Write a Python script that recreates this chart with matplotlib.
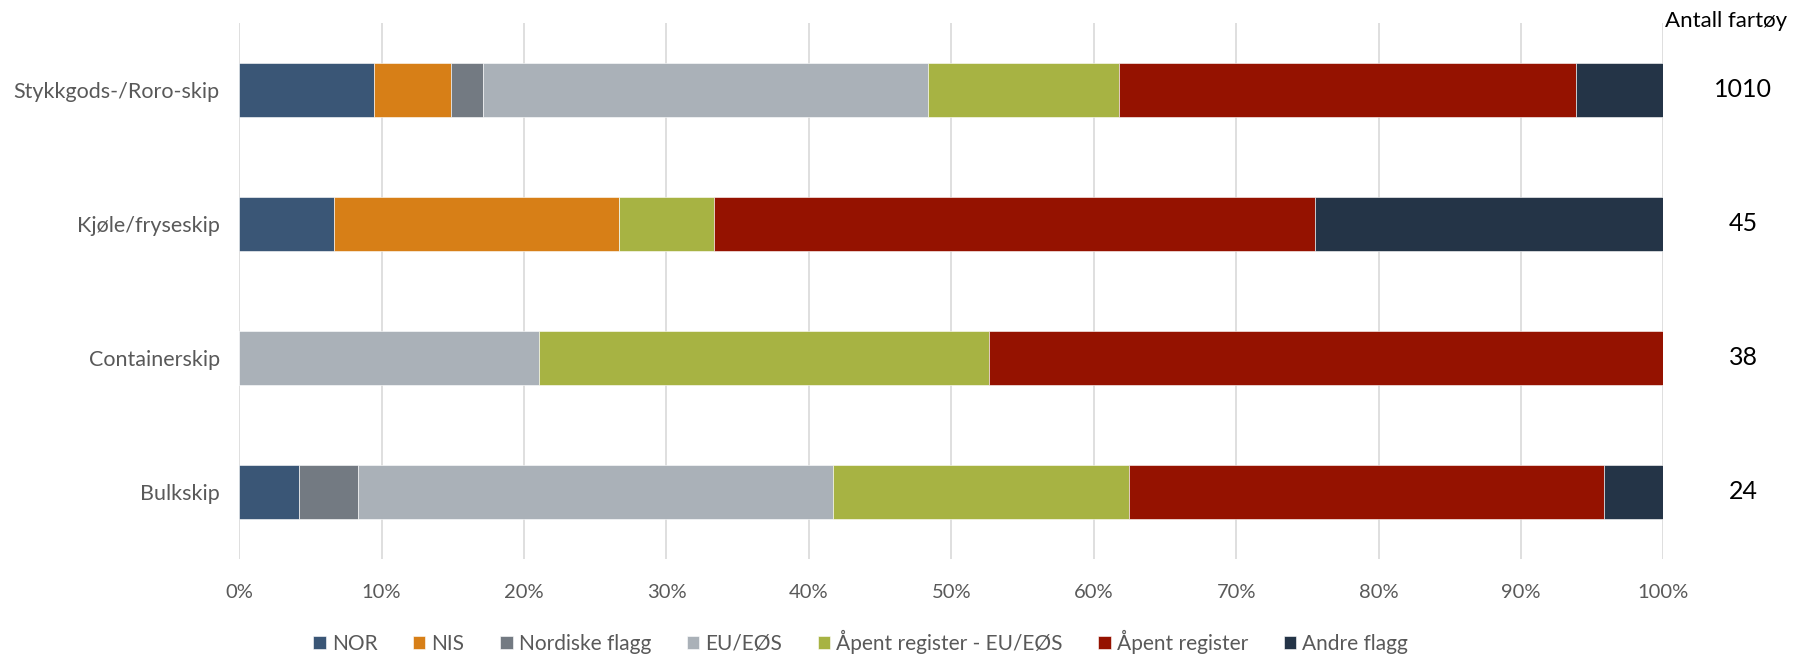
import numpy as np
import matplotlib.pyplot as plt
from matplotlib.ticker import PercentFormatter

plt.rcParams['font.family'] = ['Lato', 'DejaVu Sans']

categories = ['Stykkgods-/Roro-skip', 'Kjøle/fryseskip', 'Containerskip', 'Bulkskip']
counts = [1010, 45, 38, 24]
series = ['NOR', 'NIS', 'Nordiske flagg', 'EU/EØS', 'Åpent register - EU/EØS', 'Åpent register', 'Andre flagg']
colors = ['#3A5676', '#D77F17', '#737A82', '#AAB1B8', '#A7B343', '#951200', '#243447']

# share in percent per category, same order as series
nor = [9.5, 6.67, 0, 4.17]
nis = [5.35, 20.0, 0, 0]
nordiske = [2.25, 0, 0, 4.17]
eu = [31.25, 0, 21.05, 33.33]
apent_eu = [13.42, 6.67, 31.58, 20.83]
apent = [32.07, 42.22, 47.37, 33.33]
andre = [6.16, 24.44, 0, 4.17]
values = [nor, nis, nordiske, eu, apent_eu, apent, andre]

fig = plt.figure(figsize=(18.12, 6.55), dpi=100)
ax = fig.add_axes([0.132, 0.147, 0.786, 0.818])

y = np.arange(len(categories))
left = np.zeros(len(categories))
for name, vals, c in zip(series, values, colors):
    vals = np.array(vals)
    ax.barh(y, vals, left=left, height=0.4, color=c, label=name,
            edgecolor='white', linewidth=0.4)
    left += vals

ax.set_xlim(0, 100)
ax.set_ylim(len(categories) - 0.5, -0.5)
ax.set_yticks(y)
ax.set_yticklabels(categories, fontsize=15.5, color='#595959')
ax.set_xticks(np.arange(0, 101, 10))
ax.xaxis.set_major_formatter(PercentFormatter(decimals=0))
ax.tick_params(axis='x', labelsize=14.5, labelcolor='#595959', length=0, pad=18)
ax.tick_params(axis='y', length=0, pad=14)
ax.grid(axis='x', color='#D9D9D9', linewidth=1.2)
ax.set_axisbelow(True)
for s in ax.spines.values():
    s.set_visible(False)

# vessel counts on the right
for yi, n in zip(y, counts):
    ax.text(1.056, yi, str(n), transform=ax.get_yaxis_transform(),
            ha='center', va='center', fontsize=18, color='black')
fig.text(0.919, 0.968, 'Antall fartøy', ha='left', va='center', fontsize=16, color='black')

fig.legend(*ax.get_legend_handles_labels(), loc='center', bbox_to_anchor=(0.475, 0.02),
           ncol=7, frameon=False, fontsize=15, handlelength=0.6, handleheight=0.6,
           handletextpad=0.3, columnspacing=1.7, labelcolor='#595959')

fig.savefig('out.png', dpi=100)
